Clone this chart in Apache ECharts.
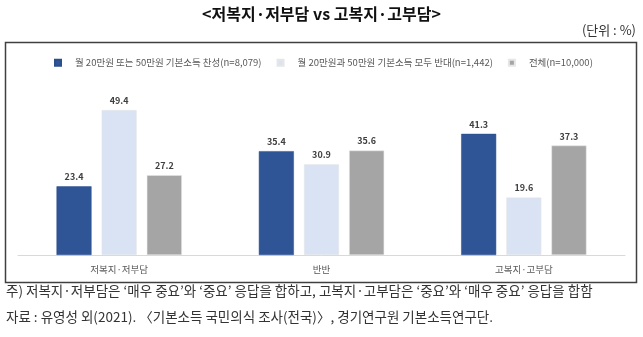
<!DOCTYPE html>
<html><head><meta charset="utf-8">
<script src="https://cdn.jsdelivr.net/npm/echarts@6/dist/echarts.min.js"></script>
<style>html,body{margin:0;padding:0;background:#fff;}#c{width:643px;height:337px;}</style>
</head><body><div id="c"></div>
<script>
const categories = ['저복지·저부담', '반반', '고복지·고부담'];
const seriesNames = ['월 20만원 또는 50만원 기본소득 찬성(n=8,079)', '월 20만원과 50만원 기본소득 모두 반대(n=1,442)', '전체(n=10,000)'];
const supportValues = [23.4, 35.4, 41.3];
const opposeValues = [49.4, 30.9, 19.6];
const totalValues = [27.2, 35.6, 37.3];
const colors = ['#2F5597', '#DAE3F3', '#A5A5A5'];
const titleText = '<저복지·저부담 vs 고복지·고부담>';
const unitText = '(단위 : %)';
const note1 = '주) 저복지·저부담은 ‘매우 중요’와 ‘중요’ 응답을 합하고, 고복지·고부담은 ‘중요’와 ‘매우 중요’ 응답을 합함';
const note2 = '자료 : 유영성 외(2021). 〈기본소득 국민의식 조사(전국)〉, 경기연구원 기본소득연구단.';

const FONT = '"Noto Sans CJK KR", "Noto Sans", sans-serif';
const chart = echarts.init(document.getElementById('c'), null, {renderer: 'canvas'});
const values = [supportValues, opposeValues, totalValues];
chart.setOption({
  animation: false,
  backgroundColor: '#fff',
  textStyle: {fontFamily: FONT},
  graphic: [
    {type: 'rect', shape: {x: 5.5, y: 42.5, width: 631, height: 240}, style: {fill: 'none', stroke: '#404040', lineWidth: 1.5}, z: -1},
    {type: 'text', left: 'center', top: 6, style: {text: titleText, font: 'bold 16px ' + FONT, fill: '#111'}},
    {type: 'text', right: 7, top: 24, style: {text: unitText, font: '13px ' + FONT, fill: '#333'}},
    {type: 'text', left: 6, top: 284, style: {text: note1, font: '13.5px ' + FONT, fill: '#333'}},
    {type: 'text', left: 6, top: 310, style: {text: note2, font: '13.5px ' + FONT, fill: '#333'}}
  ],
  legend: {
    top: 53, left: 49,
    icon: 'rect', itemWidth: 6, itemHeight: 6, itemGap: 15,
    textStyle: {fontSize: 9.5, color: '#595959', padding: [0, 0, 0, 9]},
    data: seriesNames
  },
  grid: {left: 18, right: 18, top: 79, bottom: 82, containLabel: false},
  xAxis: {
    type: 'category', data: categories,
    axisLine: {lineStyle: {color: '#D9D9D9', width: 1}},
    axisTick: {show: false},
    axisLabel: {fontSize: 9.5, color: '#595959', margin: 10}
  },
  yAxis: {type: 'value', min: 0, max: 60, show: false, splitLine: {show: false}},
  series: seriesNames.map((n, i) => ({
    name: n, type: 'bar', data: values[i],
    barWidth: 35, barGap: '29%',
    itemStyle: {color: colors[i], borderColor: i === 0 ? '#2B4F8C' : '#E6E6E6', borderWidth: 0.5},
    label: {show: true, position: 'top', distance: 5, fontSize: 9, fontWeight: 'bold', color: '#404040', formatter: p => p.value.toFixed(1)}
  }))
});
</script></body></html>
